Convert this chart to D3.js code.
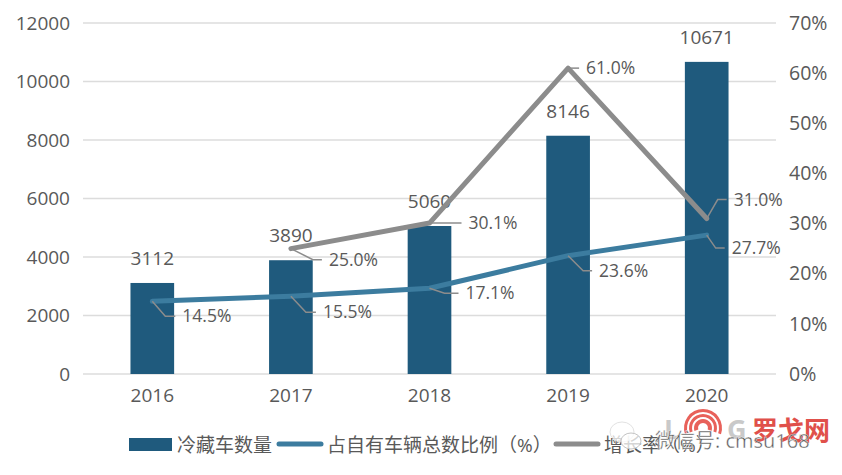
<!DOCTYPE html>
<html>
<head>
<meta charset="utf-8">
<script src="https://cdn.jsdelivr.net/npm/d3@7"></script>
<style>
  html, body { margin: 0; background: #fff; }
  text { font-family: "Open Sans", "Noto Sans CJK SC", sans-serif; fill: #595959; }
</style>
</head>
<body>
<div id="chart"></div>
<script>
// values
const years = ["2016", "2017", "2018", "2019", "2020"];
const fridgeTrucks = [3112, 3890, 5060, 8146, 10671];
const shareOfFleet = [14.5, 15.5, 17.1, 23.6, 27.7];
const growthYears = ["2017", "2018", "2019", "2020"];
const growthRate = [25.0, 30.1, 61.0, 31.0];
const countTicks = [0, 2000, 4000, 6000, 8000, 10000, 12000];
const pctTicks = [0, 10, 20, 30, 40, 50, 60, 70];
const legendNames = ["冷藏车数量", "占自有车辆总数比例（%）", "增长率（%）"];

const width = 842, height = 475;
const plotLeft = 83, plotRight = 776, plotTop = 23, plotBottom = 374;
const barColor = "#1f5a7d", blueLine = "#3c7c9f", greyLine = "#8c8c8c";

const svg = d3.select("#chart").append("svg")
    .attr("width", width)
    .attr("height", height)
    .style("display", "block");

const x = d3.scaleBand().domain(years).range([plotLeft, plotRight]).paddingInner(0.685).paddingOuter(0.3425);
const yLeft = d3.scaleLinear().domain([0, 12000]).range([plotBottom, plotTop]);
const yRight = d3.scaleLinear().domain([0, 70]).range([plotBottom, plotTop]);
const cx = d => x(d) + x.bandwidth() / 2;

// gridlines first, bars sit on top
svg.append("g")
    .selectAll("line")
    .data(countTicks)
    .join("line")
    .attr("x1", plotLeft)
    .attr("x2", plotRight)
    .attr("y1", d => yLeft(d))
    .attr("y2", d => yLeft(d))
    .attr("stroke", "#dcdcdc")
    .attr("stroke-width", 1.5);

// axes, domain and tick marks hidden
const axisLeft = svg.append("g")
    .attr("transform", `translate(${plotLeft - 13},0)`)
    .call(d3.axisLeft(yLeft).tickValues(countTicks).tickSize(0).tickPadding(0).tickFormat(d3.format("d")));
const axisRight = svg.append("g")
    .attr("transform", `translate(${plotRight + 13},0)`)
    .call(d3.axisRight(yRight).tickValues(pctTicks).tickSize(0).tickPadding(0).tickFormat(d => d + "%"));
const axisBottom = svg.append("g")
    .attr("transform", `translate(0,${plotBottom + 14})`)
    .call(d3.axisBottom(x).tickSize(0).tickPadding(0));
[axisLeft, axisRight, axisBottom].forEach(g => {
    g.select(".domain").remove();
    g.attr("font-family", null).attr("font-size", null);
    g.selectAll("text").style("font-size", "19px");
});
axisRight.selectAll("text").style("font-size", "19.5px");

// bars
svg.append("g")
    .selectAll("rect")
    .data(years)
    .join("rect")
    .attr("x", d => x(d))
    .attr("width", x.bandwidth())
    .attr("y", (d, i) => yLeft(fridgeTrucks[i]))
    .attr("height", (d, i) => plotBottom - yLeft(fridgeTrucks[i]))
    .attr("fill", barColor);

// bar value labels
svg.append("g")
    .selectAll("text")
    .data(years)
    .join("text")
    .attr("x", d => cx(d))
    .attr("y", (d, i) => yLeft(fridgeTrucks[i]) - 18)
    .attr("text-anchor", "middle")
    .style("font-size", "19px")
    .text((d, i) => fridgeTrucks[i]);

const line = d3.line().x(d => cx(d[0])).y(d => yRight(d[1]));

svg.append("path")
    .attr("d", line(d3.zip(growthYears, growthRate)))
    .attr("fill", "none")
    .attr("stroke", greyLine)
    .attr("stroke-width", 5)
    .attr("stroke-linecap", "round")
    .attr("stroke-linejoin", "round");

svg.append("path")
    .attr("d", line(d3.zip(years, shareOfFleet)))
    .attr("fill", "none")
    .attr("stroke", blueLine)
    .attr("stroke-width", 5)
    .attr("stroke-linecap", "round")
    .attr("stroke-linejoin", "round");

// leader offsets for the percent labels: elbow dx/dy, end dx
const shareLeaders = [[13, 15, 23], [15, 16, 25], [15, 5, 29], [15, 15, 24], [9, 13, 18]];
const growthLeaders = [[22, 11, 31], [5, 0, 32], [5, 0, 11], [11, -19, 20]];

function leaders(names, vals, offsets) {
    const g = svg.append("g");
    names.forEach((name, i) => {
        const px = cx(name), py = yRight(vals[i]);
        const [dx, dy, end] = offsets[i];
        g.append("polyline")
            .attr("points", [[px, py], [px + dx, py + dy], [px + end, py + dy]].join(" "))
            .attr("fill", "none")
            .attr("stroke", "#8c8c8c")
            .attr("stroke-width", 1.5);
        g.append("text")
            .attr("x", px + end + 7)
            .attr("y", py + dy + 6)
            .style("font-size", "17.5px")
            .text(vals[i].toFixed(1) + "%");
    });
}
leaders(years, shareOfFleet, shareLeaders);
leaders(growthYears, growthRate, growthLeaders);

// legend
const legendY = 445;
const legend = svg.append("g");
legend.append("rect").attr("x", 129).attr("y", legendY - 7).attr("width", 43).attr("height", 13).attr("fill", barColor);
legend.append("line").attr("x1", 279).attr("x2", 321).attr("y1", legendY - 1).attr("y2", legendY - 1)
    .attr("stroke", blueLine).attr("stroke-width", 5).attr("stroke-linecap", "round");
legend.append("line").attr("x1", 556).attr("x2", 598).attr("y1", legendY - 1).attr("y2", legendY - 1)
    .attr("stroke", greyLine).attr("stroke-width", 5).attr("stroke-linecap", "round");
legend.selectAll("text")
    .data(legendNames)
    .join("text")
    .attr("x", (d, i) => [177, 327, 604][i])
    .attr("y", legendY + 7)
    .style("font-size", "19px")
    .text(d => d);

// watermark over the legend's right end
const mark = svg.append("g");
mark.append("ellipse").attr("cx", 622).attr("cy", 432).attr("rx", 12).attr("ry", 10)
    .attr("fill", "#fff").attr("fill-opacity", 0.75).attr("stroke", "#e2e2e2");
mark.append("ellipse").attr("cx", 631).attr("cy", 441).attr("rx", 10).attr("ry", 8)
    .attr("fill", "#fff").attr("fill-opacity", 0.75).attr("stroke", "#c4c4c4");
const ringArc = d3.arc().startAngle(-1.9).endAngle(1.9);
[[5, 9], [11, 14], [16, 19]].forEach(([r0, r1]) => {
    mark.append("path")
        .attr("transform", "translate(703,428)")
        .attr("d", ringArc({ innerRadius: r0, outerRadius: r1 }))
        .attr("fill", "#e8615a");
});
mark.append("text").attr("x", 664).attr("y", 439).style("font-size", "27px").style("font-weight", 700)
    .style("fill", "#c9c9c9").text("L");
mark.append("text").attr("x", 727).attr("y", 439).style("font-size", "27px").style("font-weight", 700)
    .style("fill", "#c9c9c9").text("G");
mark.append("text").attr("x", 752).attr("y", 440).style("font-size", "26px").style("font-weight", 700)
    .style("fill", "#e0504a").text("罗戈网");
mark.append("text").attr("x", 655).attr("y", 448).style("font-size", "20px")
    .style("fill", "#555").style("stroke", "#fff").style("stroke-width", 0.4).text("微信号: cmsu168");
</script>
</body>
</html>
